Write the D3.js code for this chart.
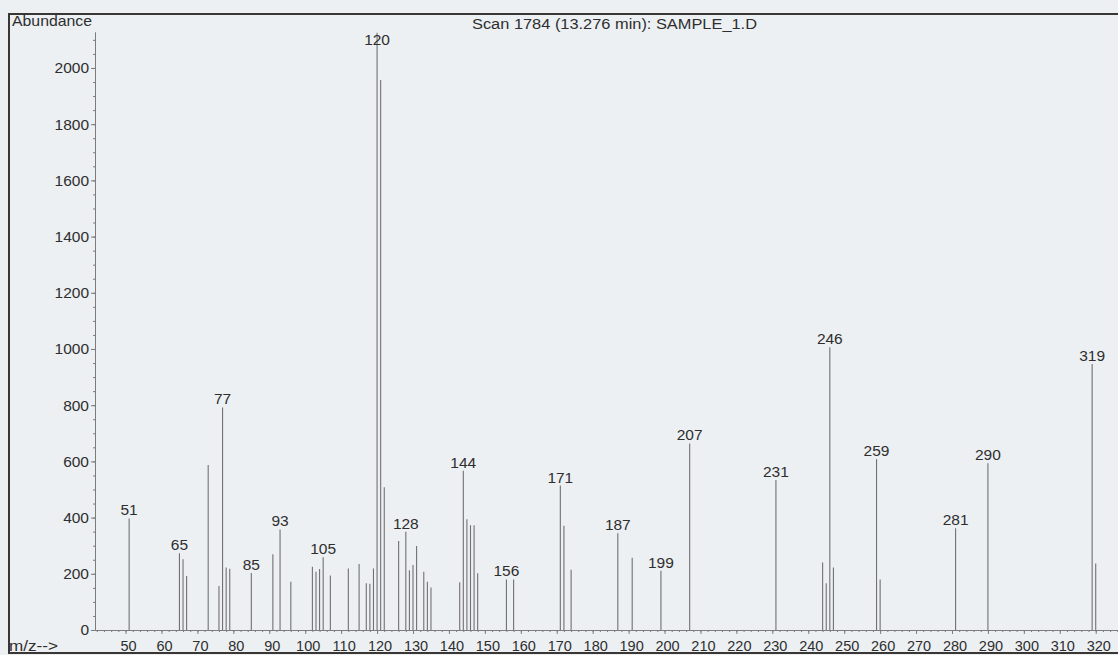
<!DOCTYPE html>
<html>
<head>
<meta charset="utf-8">
<script src="https://cdn.jsdelivr.net/npm/d3@7"></script>
<style>
  html, body { margin: 0; padding: 0; background: #edf0f3; }
  svg { display: block; font-family: "Liberation Sans", Arial, sans-serif; }
</style>
</head>
<body>
<svg id="chart" width="1118" height="655"></svg>
<script>
// m/z values of each peak and their abundances
const masses = [51, 65, 66, 67, 73, 76, 77, 78, 79, 85, 91, 93, 96, 102, 103, 104, 105, 107,
  112, 115, 117, 118, 119, 120, 121, 122, 126, 128, 129, 130, 131, 133, 134, 135,
  143, 144, 145, 146, 147, 148, 156, 158, 171, 172, 174, 187, 191, 199, 207,
  231, 244, 245, 246, 247, 259, 260, 281, 290, 319, 320];
const abundances = [397, 273, 252, 192, 587, 157, 792, 222, 218, 203, 270, 358, 172, 225, 207, 217, 259, 194,
  219, 235, 166, 165, 219, 2125, 1957, 508, 317, 350, 213, 231, 299, 207, 172, 151,
  170, 567, 394, 373, 373, 202, 180, 180, 514, 371, 214, 344, 257, 211, 664,
  534, 240, 166, 1006, 222, 608, 180, 362, 593, 947, 237];
// peaks that carry a mass label
const labelled = [51, 65, 77, 85, 93, 105, 120, 128, 144, 156, 171, 187, 199, 207, 231, 246, 259, 281, 290, 319];

const yTicks = d3.range(0, 2001, 200);
const xTicks = d3.range(50, 321, 10);

const peaks = masses.map((m, i) => ({ mz: m, ab: abundances[i] }));

const svg = d3.select("#chart");
const ink = "#2e2e2e";
const axisCol = "#7c7c7c";

// scanned page frame
svg.append("rect")
  .attr("x", 9).attr("y", 14)
  .attr("width", 1130).attr("height", 639)
  .attr("fill", "none")
  .attr("stroke", "#3a3633")
  .attr("stroke-width", 2);

const x = d3.scaleLinear().domain([41.5, 326.2]).range([95, 1118]);
const y = d3.scaleLinear().domain([0, 2128]).range([630, 32]);

// y axis: minor then major ticks
svg.append("g")
  .attr("transform", "translate(95,0)")
  .call(d3.axisLeft(y).tickValues(d3.range(0, 2101, 50)).tickFormat("").tickSize(2).tickSizeOuter(0))
  .call(g => g.selectAll("line,path").attr("stroke", axisCol));

svg.append("g")
  .attr("transform", "translate(95,0)")
  .call(d3.axisLeft(y).tickValues(yTicks).tickFormat(d3.format("d")).tickSize(4).tickPadding(2).tickSizeOuter(0))
  .call(g => g.selectAll("line,path").attr("stroke", axisCol))
  .call(g => g.selectAll("text")
    .attr("fill", ink)
    .style("font-size", "15.5px")
    .style("font-family", "'Liberation Sans', Arial, sans-serif"));

// x axis
svg.append("g")
  .attr("transform", "translate(0,630)")
  .call(d3.axisBottom(x).tickValues(d3.range(42, 327, 2)).tickFormat("").tickSize(2).tickSizeOuter(0))
  .call(g => g.selectAll("line,path").attr("stroke", axisCol));

svg.append("g")
  .attr("transform", "translate(0,630)")
  .call(d3.axisBottom(x).tickValues(xTicks).tickSize(4).tickPadding(7).tickSizeOuter(0))
  .call(g => g.selectAll("line,path").attr("stroke", axisCol))
  .call(g => g.selectAll("text")
    .attr("fill", ink)
    .attr("dx", 2.5)
    .style("font-size", "14.5px")
    .style("font-family", "'Liberation Sans', Arial, sans-serif"));

// peak sticks
svg.append("g")
  .selectAll("line")
  .data(peaks)
  .enter()
  .append("line")
  .attr("x1", d => x(d.mz)).attr("x2", d => x(d.mz))
  .attr("y1", y(0)).attr("y2", d => y(d.ab))
  .attr("stroke", "#707070")
  .attr("stroke-width", 1.1);

// peak labels
svg.append("g")
  .selectAll("text")
  .data(peaks.filter(d => labelled.includes(d.mz)))
  .enter()
  .append("text")
  .attr("x", d => x(d.mz))
  .attr("y", d => Math.max(y(d.ab) - 3, 45))
  .attr("text-anchor", "middle")
  .attr("fill", ink)
  .style("font-size", "15.5px")
  .text(d => d.mz);

// texts
svg.append("text")
  .attr("x", 12).attr("y", 26)
  .attr("fill", ink)
  .attr("textLength", 80).attr("lengthAdjust", "spacingAndGlyphs")
  .style("font-size", "15px")
  .text("Abundance");

svg.append("text")
  .attr("x", 472).attr("y", 29)
  .attr("fill", ink)
  .attr("textLength", 285).attr("lengthAdjust", "spacingAndGlyphs")
  .style("font-size", "14px")
  .text("Scan 1784 (13.276 min): SAMPLE_1.D");

svg.append("text")
  .attr("x", 9).attr("y", 651)
  .attr("fill", ink)
  .attr("textLength", 49).attr("lengthAdjust", "spacingAndGlyphs")
  .style("font-size", "14px")
  .text("m/z-->");
</script>
</body>
</html>
